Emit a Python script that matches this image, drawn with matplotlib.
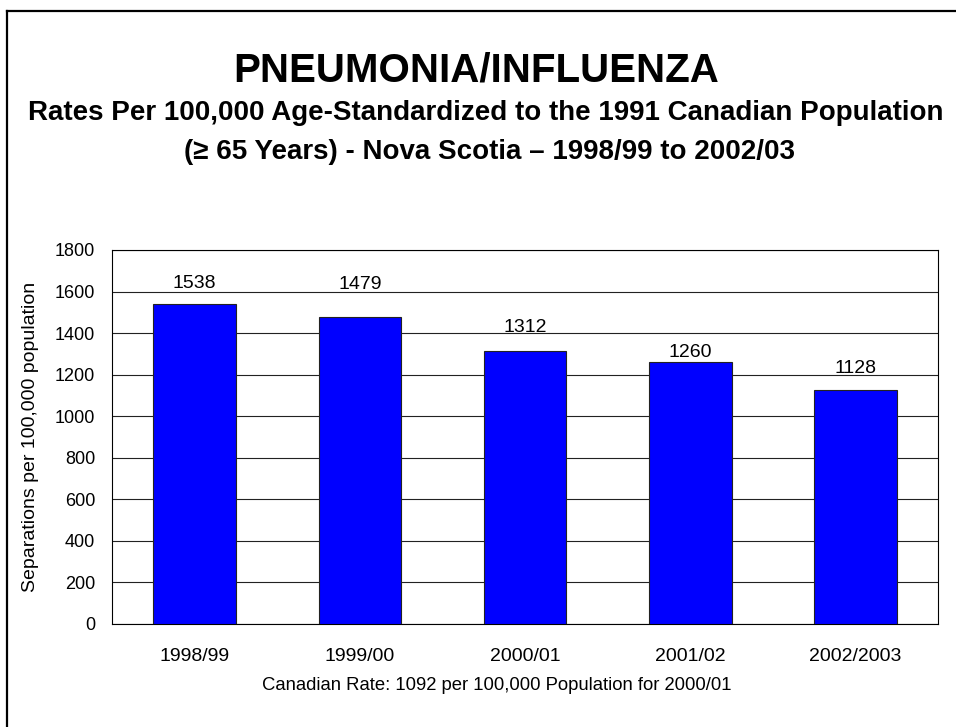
import matplotlib
matplotlib.use("Agg")
import matplotlib.pyplot as plt
from matplotlib.lines import Line2D

# datos
years = ["1998/99", "1999/00", "2000/01", "2001/02", "2002/2003"]
rates = [1538, 1479, 1312, 1260, 1128]
yticks = [0, 200, 400, 600, 800, 1000, 1200, 1400, 1600, 1800]

# altura de las etiquetas (como en el original)
label_y = [1641, 1632, 1429, 1309, 1232]

plt.rcParams["font.family"] = ["Liberation Sans", "DejaVu Sans"]

W, H = 956, 727
fig = plt.figure(figsize=(W / 100, H / 100), dpi=100)
ax = fig.add_axes([112 / W, 1 - 624 / H, (938 - 112) / W, (624 - 250) / H])

x = range(len(years))
ax.bar(x, rates, width=0.5, color="#0000FF", edgecolor="#222222", linewidth=0.8, zorder=3)
for i, v in enumerate(rates):
    ax.text(i, label_y[i], str(v), ha="center", va="center", fontsize=14)

ax.set_xlim(-0.5, len(years) - 0.5)
ax.set_ylim(0, 1800)
ax.set_yticks(yticks)
ax.set_xticks(list(x))
ax.set_xticklabels(years)
ax.tick_params(axis="both", length=0)
ax.tick_params(axis="x", labelsize=14, pad=17)
ax.tick_params(axis="y", labelsize=13, pad=12)
ax.yaxis.grid(True, color="#222222", linewidth=0.8, zorder=0)
ax.set_axisbelow(True)
for s in ax.spines.values():
    s.set_linewidth(0.8)
ax.set_ylabel("Separations per 100,000 population", fontsize=14)
ax.yaxis.set_label_coords((39 - 112) / (938 - 112), 0.5)

fig.text(497 / W, 1 - 686 / H, "Canadian Rate: 1092 per 100,000 Population for 2000/01",
         ha="center", va="center", fontsize=13.3)

# titulos
fig.text(476 / W, 1 - 70 / H, "PNEUMONIA/INFLUENZA", ha="center", va="center",
         fontsize=29, fontweight="bold")
fig.text(486 / W, 1 - 113 / H, "Rates Per 100,000 Age-Standardized to the 1991 Canadian Population",
         ha="center", va="center", fontsize=20, fontweight="bold")
fig.text(489 / W, 1 - 152 / H, "(\u2265 65 Years) - Nova Scotia \u2013 1998/99 to 2002/03",
         ha="center", va="center", fontsize=20, fontweight="bold")

# marco
fig.add_artist(Line2D([7 / W, 7 / W], [0, 1 - 11 / H], color="black", linewidth=1.6))
fig.add_artist(Line2D([7 / W, 1], [1 - 11 / H, 1 - 11 / H], color="black", linewidth=1.6))

fig.savefig("out.png", dpi=100)
